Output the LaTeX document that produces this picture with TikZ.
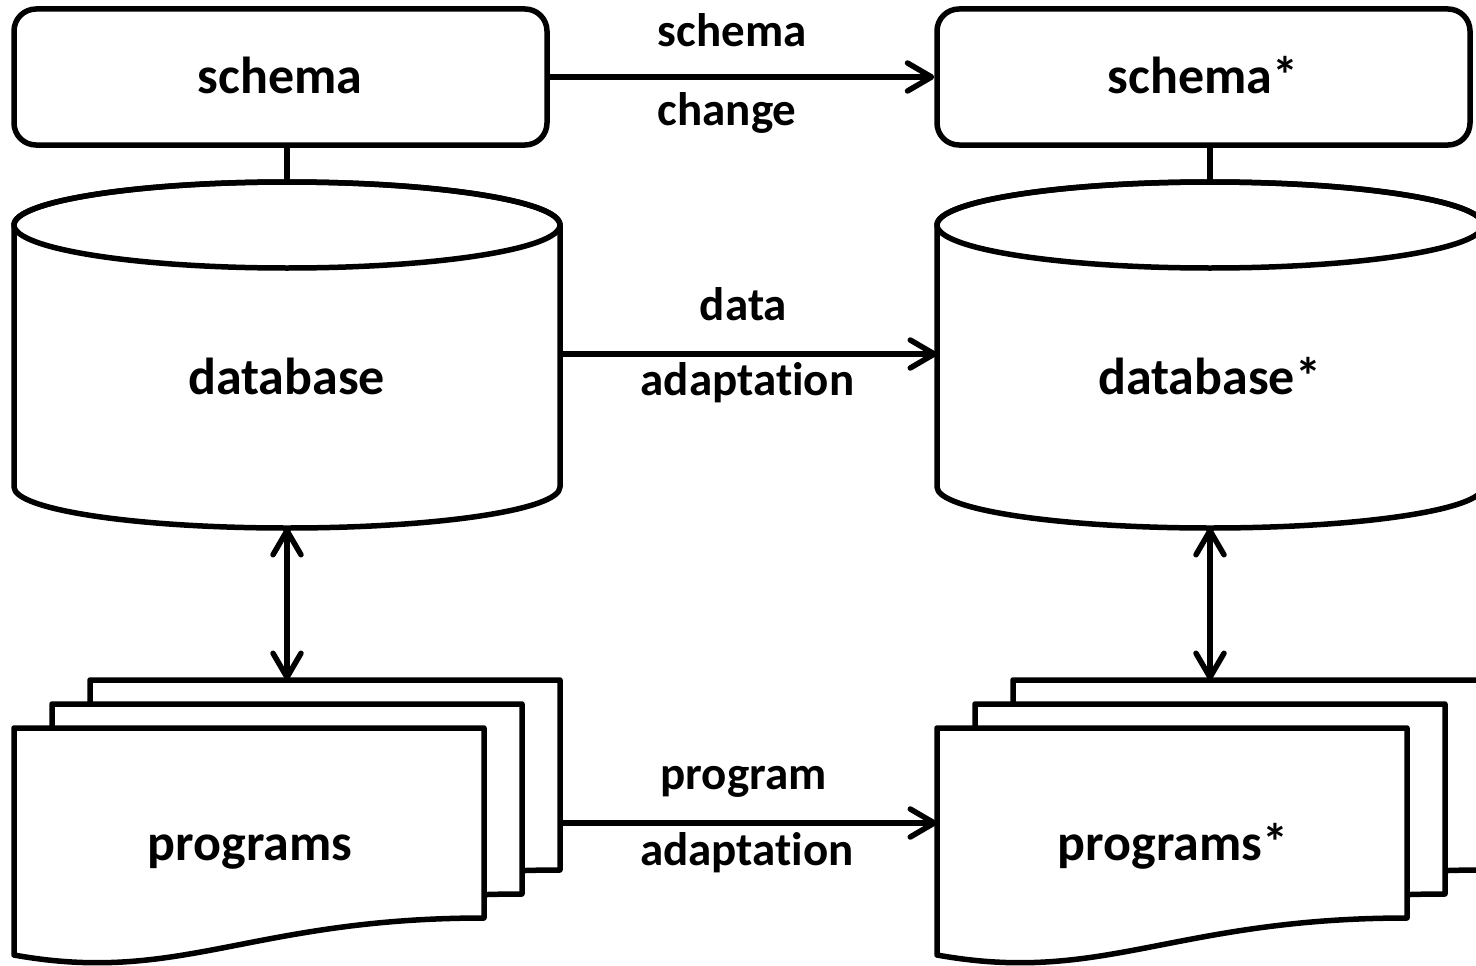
\documentclass[tikz,border=0pt]{standalone}
\usepackage{fontspec}
\setmainfont{Carlito}[Ligatures=NoCommon]
\usetikzlibrary{arrows.meta}
\begin{document}
\begin{tikzpicture}[x=1pt,y=-1pt,line width=5.5pt,line join=round,
  box/.style={draw,rounded corners=22pt,minimum width=533pt,minimum height=136pt,inner sep=0pt},
  hull/.style={inner sep=0pt,outer sep=0pt},
  shapetext/.style={font=\fontsize{52}{62}\selectfont\bfseries,inner sep=0pt,anchor=base},
  lbl/.style={font=\fontsize{47}{56}\selectfont\bfseries,inner sep=0pt,anchor=base},
  barb/.tip={Straight Barb[length=24pt,width=28pt,round]},
  flow/.style={-barb},
  link/.style={barb-barb}
]
\useasboundingbox (0,0) rectangle (1476,966);
\clip (0,0) rectangle (1476,966);

\foreach \dx/\sfx/\side in {0/{}/L,923/{*}/R}{
  \begin{scope}[shift={(\dx,0)}]
    % schema box
    \node[box] (schema\side) at (280.5,77) {};
    \node[shapetext] (schematext\side) at (280,94) {schema\sfx};
    % database cylinder
    \node[hull,minimum width=546pt,minimum height=348pt] (db\side) at (287,354) {};
    \draw[fill=white] (14,225) -- (14,487)
      arc[start angle=180,end angle=360,x radius=273pt,y radius=41pt]
      -- (560,225)
      arc[start angle=0,end angle=180,x radius=273pt,y radius=43pt] -- cycle;
    \draw (287,225) ellipse[x radius=273pt,y radius=43pt];
    \node[shapetext] (dbtext\side) at (286.5,394) {database\sfx};
    \draw (db\side.north) -- (db\side.north |- schema\side.south);
    % stack of program documents, back to front
    \foreach \k in {2,1,0}{
      \draw[fill=white,shift={(38*\k,-24*\k)}]
        (14,728) -- (484,728) -- (484,918)
        .. controls (250,918) and (180,985) .. (14,955) -- cycle;
    }
    \node[hull,minimum width=470pt,minimum height=191pt] (progback\side) at (325,775.5) {};
    \node[hull,minimum width=470pt,minimum height=190pt] (progfront\side) at (249,823) {};
    \node[shapetext] (progtext\side) at (250,860) {programs\sfx};
    \draw[link] (db\side.south) -- (db\side.south |- progback\side.north);
  \end{scope}
}

% transformations between the two states
\draw[flow] (schemaL.east) -- (schemaR.west);
\draw[flow] (dbL.east) -- (dbR.west);
\draw[flow] (progfrontR.west -| progbackL.east) -- (progfrontR.west);

\node[lbl,anchor=base west] (lschema) at (655,47) {schema};
\node[lbl,anchor=base west] (lchange) at (655,125) {change};
\node[lbl] (ldata) at (743.5,320) {data};
\node[lbl] (ladapt) at (747.5,395) {adaptation};
\node[lbl] (lprogram) at (743.5,789) {program};
\node[lbl] (ladapt2) at (747,865) {adaptation};
\end{tikzpicture}
\end{document}
